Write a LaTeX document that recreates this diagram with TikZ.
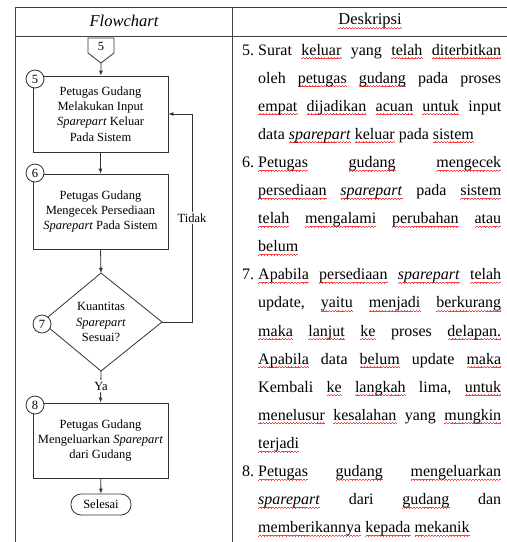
\documentclass[tikz,border=0pt]{standalone}
\usepackage{fontspec}
\setmainfont{Liberation Serif}
\usetikzlibrary{arrows.meta}
\newcommand\wavebit{\hbox{\rule[-3.6pt]{0.75pt}{0.5pt}\rule[-3.1pt]{0.75pt}{0.5pt}\rule[-2.6pt]{0.75pt}{0.5pt}\rule[-3.1pt]{0.75pt}{0.5pt}}}
\newcommand\W[1]{\setbox0\hbox{#1}\leavevmode\rlap{\color{red!75}\hbox to \wd0{\xleaders\wavebit\hfill}}\box0\relax}
\newcommand\J[1]{\hbox to 243pt{#1}}
\begin{document}
\begin{tikzpicture}[x=1pt,y=-1pt,
  tbl/.style={draw=black!75, line width=0.8pt},
  fl/.style={draw=black!80, line width=0.8pt},
  arr/.style={fl, -{Latex[length=5pt,width=4pt]}},
  box/.style={fl, minimum width=135pt, align=center, inner sep=0pt, font=\fontsize{12.5}{15.3}\selectfont},
  circ/.style={fl, circle, fill=white, minimum size=18pt, inner sep=0pt, font=\fontsize{12.5}{14}\selectfont},
  lbl/.style={fill=white, inner sep=1.5pt, font=\fontsize{12.5}{14}\selectfont},
  row/.style={anchor=base west, inner sep=0pt, font=\fontsize{16}{19}\selectfont},
  hd/.style={inner sep=0pt, font=\fontsize{16.5}{19}\selectfont}]
\useasboundingbox (0,0) rectangle (507,542);
% table
\draw[tbl] (507,7) -- (15,7) -- (15,542);
\draw[tbl] (15,36) -- (507,36);
\draw[tbl] (232,7) -- (232,542);
\node[hd] (h1) at (124,21) {\itshape Flowchart};
\node[hd] (h2) at (370,21) {\W{Deskripsi}};
% off-page connector
\draw[fl] (88,38) -- (114,38) -- (114,53) -- (101,63) -- (88,53) -- cycle;
\node[inner sep=0pt, font=\fontsize{12.5}{14}\selectfont] (off) at (101,46) {5};
\coordinate (offtip) at (101,63);
% boxes
\node[box, minimum height=76pt] (b5) at (100.5,114) {Petugas Gudang\\Melakukan Input\\\textit{Sparepart} Keluar\\Pada Sistem};
\node[box, minimum height=75pt] (b6) at (100.5,211.5) {Petugas Gudang\\Mengecek Persediaan\\\textit{Sparepart} Pada Sistem};
\node[box, minimum height=75pt] (b8) at (100.5,440.5) {Petugas Gudang\\Mengeluarkan \textit{Sparepart}\\dari Gudang};
% diamond
\coordinate (dt) at (101,273);
\coordinate (dr) at (162,322);
\coordinate (db) at (101,371);
\coordinate (dl) at (42,322);
\draw[fl] (dt) -- (dr) -- (db) -- (dl) -- cycle;
\node[align=center, inner sep=0pt, font=\fontsize{12.5}{15.8}\selectfont] (d7) at (101,322) {Kuantitas\\\textit{Sparepart}\\Sesuai?};
% terminator
\node[fl, rounded corners=10pt, minimum width=60pt, minimum height=21pt, inner sep=0pt, font=\fontsize{12.5}{14}\selectfont] (end) at (101,504.5) {Selesai};
% connectors
\draw[arr] (offtip) -- (b5);
\draw[arr] (b5) -- (b6);
\draw[arr] (b6.south) -- (dt);
\coordinate (lp) at (192,114);
\draw[arr] (dr) -| (lp) -- (b5.east);
\node[lbl] (tidak) at (192,218) {Tidak};
\draw[arr] (db) -- (b8.north);
\node[lbl] (ya) at (101,386) {Ya};
\draw[arr] (b8) -- (end);
% circles
\node[circ] (c5) at (35,79) {5};
\node[circ] (c6) at (35,173) {6};
\node[circ] (c7) at (42,324) {7};
\node[circ] (c8) at (35,405) {8};
% description
\node[row] (n5) at (242,55) {5.};
\node[row] (r0) at (258,55) {\J{Surat\hfill\W{keluar}\hfill yang\hfill\W{telah}\hfill\W{diterbitkan}}};
\node[row] (r1) at (258,83.1) {\J{oleh\hfill\W{petugas}\hfill\W{gudang}\hfill pada\hfill proses}};
\node[row] (r2) at (258,111.2) {\J{\W{empat}\hfill\W{dijadikan}\hfill\W{acuan}\hfill\W{untuk}\hfill input}};
\node[row] (r3) at (258,139.3) {data \W{\textit{sparepart}} \W{keluar} pada \W{sistem}};
\node[row] (n6) at (242,167.4) {6.};
\node[row] (r4) at (258,167.4) {\J{\W{Petugas}\hfill\W{gudang}\hfill\W{mengecek}}};
\node[row] (r5) at (258,195.5) {\J{\W{persediaan}\hfill\W{\textit{sparepart}}\hfill pada\hfill\W{sistem}}};
\node[row] (r6) at (258,223.6) {\J{\W{telah}\hfill\W{mengalami}\hfill\W{perubahan}\hfill\W{atau}}};
\node[row] (r7) at (258,251.7) {\W{belum}};
\node[row] (n7) at (242,279.8) {7.};
\node[row] (r8) at (258,279.8) {\J{\W{Apabila}\hfill\W{persediaan}\hfill\W{\textit{sparepart}}\hfill\W{telah}}};
\node[row] (r9) at (258,307.9) {\J{update,\hfill\W{yaitu}\hfill\W{menjadi}\hfill\W{berkurang}}};
\node[row] (r10) at (258,336) {\J{\W{maka}\hfill\W{lanjut}\hfill\W{ke}\hfill proses\hfill\W{delapan.}}};
\node[row] (r11) at (258,364.1) {\J{\W{Apabila}\hfill data\hfill\W{belum}\hfill update\hfill\W{maka}}};
\node[row] (r12) at (258,392.2) {\J{Kembali\hfill\W{ke}\hfill\W{langkah}\hfill lima,\hfill\W{untuk}}};
\node[row] (r13) at (258,420.3) {\J{\W{menelusur}\hfill\W{kesalahan}\hfill yang\hfill\W{mungkin}}};
\node[row] (r14) at (258,448.4) {\W{terjadi}};
\node[row] (n8) at (242,476.5) {8.};
\node[row] (r15) at (258,476.5) {\J{\W{Petugas}\hfill\W{gudang}\hfill\W{mengeluarkan}}};
\node[row] (r16) at (258,504.6) {\J{\W{\textit{sparepart}}\hfill dari\hfill\W{gudang}\hfill dan}};
\node[row] (r17) at (258,532.7) {\W{memberikannya} \W{kepada} \W{mekanik}};
\end{tikzpicture}
\end{document}
